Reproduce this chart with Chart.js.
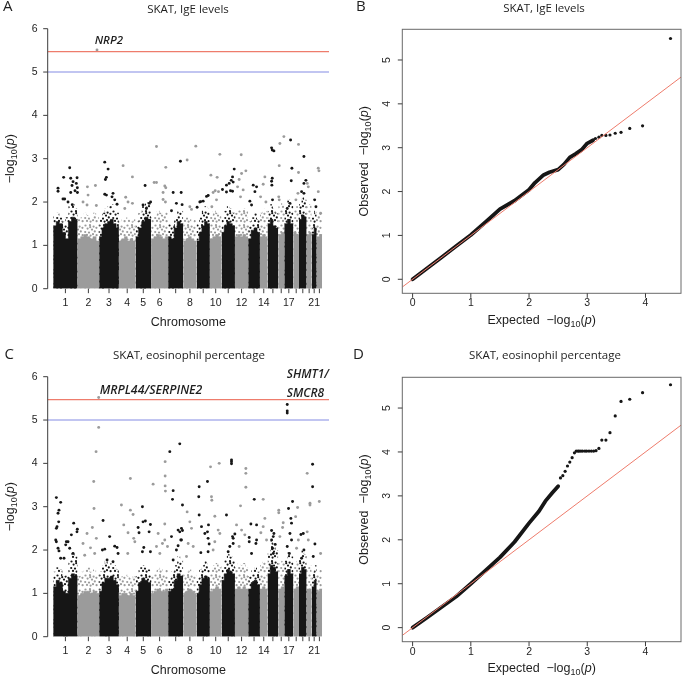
<!DOCTYPE html>
<html>
<head>
<meta charset="utf-8">
<title>SKAT Manhattan and QQ plots</title>
<script src="https://cdn.jsdelivr.net/npm/chart.js@4.4.1/dist/chart.umd.min.js"></script>
<style>
html,body{margin:0;padding:0;background:#ffffff;}
#fig{position:relative;width:685px;height:677px;overflow:hidden;background:#fff;}
#fig canvas{position:absolute;left:0;top:0;}
</style>
</head>
<body>
<div id="fig">
<canvas id="panelA" width="685" height="677"></canvas>
<canvas id="panelB" width="685" height="677"></canvas>
<canvas id="panelC" width="685" height="677"></canvas>
<canvas id="panelD" width="685" height="677"></canvas>
</div>
<script>
// ================= DATA =================
const chromosomes = ['1','2','3','4','5','6','7','8','9','10','11','12','13','14','15','16','17','18','19','20','21','22'];
const chrStartMb = [0,262,493,705,883,1050,1233,1395,1538,1681,1806,1950,2092,2218,2300,2414,2479,2577,2637,2719,2773,2827];
const chrEndMb   = [262,493,705,883,1050,1233,1395,1538,1681,1806,1950,2092,2218,2300,2414,2479,2577,2637,2719,2773,2827,2885];
const chrTickLabels = ['1','2','3','4','5','6','','8','','10','','12','','14','','','17','','','','21',''];
const manhattanYTicks = [0,1,2,3,4,5,6];
const qqXTicks = [0,1,2,3,4];
const qqYTicks = [0,1,2,3,4,5];
const genomeRangeMb = [-59, 2959];
const manhattanYRange = [0, 6];
const qqXRange = [-0.177, 4.61];
const qqYRange = [-0.32, 5.70];
const suggestiveLine = 5;
const significanceLine = 5.47;

// bulk of genes per chromosome (-log10 p), read in equal-width bins:
// level up to which the cloud is solid, and level the speckled cloud reaches
const igeSolidTop = [
  [1.45,1.55,1.5,1.3,1.15,1.55,1.65,1.6],
  [1.15,1.2,1.25,1.2,1.15,1.2,1.1],
  [1.2,1.4,1.5,1.55,1.6,1.5,1.4],
  [1.1,1.15,1.2,1.1,1.15,1.1],
  [1.2,1.4,1.55,1.65,1.6],
  [1.15,1.2,1.25,1.2,1.15,1.2],
  [1.2,1.15,1.4,1.55,1.5],
  [1.1,1.15,1.2,1.15,1.1],
  [1.1,1.3,1.45,1.55,1.5],
  [1.15,1.2,1.25,1.2],
  [1.3,1.45,1.55,1.5,1.45],
  [1.2,1.25,1.2,1.25,1.2],
  [1.15,1.35,1.4,1.3],
  [1.2,1.25,1.2],
  [1.5,1.6,1.45,1.4],
  [1.25,1.3],
  [1.5,1.6,1.5],
  [1.3,1.25],
  [1.6,1.7,1.65],
  [1.25,1.3],
  [1.25,1.4],
  [1.2,1.25]
];
const igeCloudTop = [
  [1.7,1.75,1.65,1.55,1.65,1.9,1.95,1.85],
  [1.6,1.65,1.75,1.7,1.6,1.75,1.7],
  [1.6,1.75,1.85,1.9,1.95,1.85,1.75],
  [1.55,1.6,1.65,1.6,1.55,1.6],
  [1.55,1.75,1.9,2.0,1.95],
  [1.65,1.7,1.8,1.75,1.7,1.8],
  [1.5,1.45,1.65,1.85,1.8],
  [1.6,1.65,1.6,1.55,1.6],
  [1.5,1.65,1.8,1.9,1.85],
  [1.7,1.8,1.75,1.7],
  [1.6,1.8,1.9,1.85,1.75],
  [1.75,1.85,1.8,1.85,1.8],
  [1.55,1.65,1.75,1.6],
  [1.75,1.85,1.8],
  [1.8,1.95,1.85,1.75],
  [1.9,2.0],
  [1.85,2.05,1.95],
  [1.85,1.9],
  [1.95,2.15,2.05],
  [1.9,1.95],
  [1.65,1.8],
  [1.7,1.8]
];
const eosSolidTop = [
  [1.15,1.3,1.25,1.05,1.0,1.35,1.45,1.4],
  [0.95,1.0,1.05,1.05,1.0,1.05,1.0],
  [1.05,1.25,1.35,1.35,1.4,1.3,1.2],
  [0.95,1.0,1.0,0.95,1.0,0.95],
  [1.05,1.25,1.35,1.3,1.25],
  [1.0,1.05,1.1,1.05,1.05,1.1],
  [1.05,1.1,1.3,1.45,1.4],
  [1.0,1.05,1.1,1.05,1.0],
  [1.0,1.2,1.35,1.4,1.35],
  [1.05,1.1,1.15,1.1],
  [1.3,1.45,1.55,1.5,1.45],
  [1.1,1.15,1.1,1.15,1.1],
  [1.1,1.25,1.3,1.2],
  [1.1,1.15,1.1],
  [1.45,1.65,1.6,1.5],
  [1.1,1.15],
  [1.4,1.55,1.45],
  [1.1,1.15],
  [1.45,1.6,1.55],
  [1.1,1.1],
  [1.15,1.3],
  [1.05,1.1]
];
const eosCloudTop = [
  [1.5,1.6,1.55,1.4,1.45,1.8,1.95,1.85],
  [1.4,1.5,1.55,1.6,1.5,1.55,1.45],
  [1.5,1.65,1.75,1.65,1.7,1.65,1.55],
  [1.35,1.4,1.45,1.4,1.35,1.4],
  [1.4,1.6,1.65,1.6,1.55],
  [1.45,1.5,1.55,1.6,1.5,1.55],
  [1.35,1.5,1.65,1.85,1.8],
  [1.45,1.5,1.55,1.5,1.45],
  [1.35,1.55,1.65,1.75,1.65],
  [1.55,1.65,1.7,1.6],
  [1.65,1.8,1.9,1.85,1.75],
  [1.6,1.7,1.65,1.7,1.6],
  [1.4,1.55,1.6,1.5],
  [1.65,1.75,1.7],
  [1.95,2.2,2.15,2.0],
  [1.7,1.75],
  [1.75,1.95,1.85],
  [1.7,1.75],
  [1.8,2.0,1.9],
  [1.6,1.65],
  [1.5,1.65],
  [1.5,1.55]
];

// individual genes above the cloud: [chromosome, cumulative position Mb, -log10 p]
const igeGenes = [
  [1,52,2.32],[1,52,2.25],[1,112,2.57],[1,105,2.07],[1,123,2.07],[1,177,2.79],[1,188,2.55],[1,213,2.47],[1,202,2.38],[1,188,2.22],[1,234,2.26],[1,256,2.56],[1,248,2.43],[1,259,2.33],[1,260,2.22],[1,159,2.0],[1,205,1.94],
  [2,367,2.35],[2,374,2.16],[2,363,1.93],[2,320,2.0],[2,453,2.38],[2,463,1.92],[2,470,5.51],
  [3,553,2.92],[3,589,2.76],[3,560,2.52],[3,571,2.57],[3,553,2.18],[3,571,2.16],[3,642,2.2],[3,631,2.12],[3,660,2.05],[3,685,1.95],
  [4,750,2.84],[4,850,2.58],[4,778,2.11],[4,803,2.0],[4,768,1.85],[4,850,1.97],
  [5,986,2.38],[5,1029,1.97],[5,1045,2.0],[5,964,1.93],[5,1000,1.85],
  [6,1108,3.28],[6,1208,2.8],[6,1083,2.45],[6,1108,2.45],[6,1197,2.37],[6,1208,2.33],[6,1179,2.22],[6,1179,2.06],[6,1204,2.0],
  [7,1365,2.94],[7,1287,2.22],[7,1373,2.22],[7,1322,1.97],[7,1269,1.8],[7,1383,1.94],
  [8,1437,2.97],[8,1530,3.29],[8,1466,1.89],[8,1484,1.83],
  [9,1645,2.13],[9,1584,2.01],[9,1663,2.15],[9,1609,2.02],[9,1573,2.0],[9,1544,1.88],
  [10,1692,2.62],[10,1788,3.1],[10,1759,2.57],[10,1738,2.26],[10,1773,2.24],[10,1716,2.22],[10,1752,2.05],[10,1702,1.89],
  [11,1859,2.39],[11,1888,2.43],[11,1910,2.5],[11,1924,2.58],[11,1942,2.76],[11,1931,2.46],[11,1859,2.23],[11,1816,2.29],[11,1902,2.26],[11,1924,2.25],
  [12,2017,3.09],[12,2021,2.66],[12,2067,2.72],[12,1995,2.52],[12,1978,2.35],[12,2038,2.28],[12,2010,2.12],
  [13,2110,2.02],[13,2128,1.93],[13,2182,2.35],[13,2146,2.39],[13,2164,2.24],
  [14,2271,2.58],[14,2253,2.41],[14,2225,2.12],[14,2282,2.0],
  [15,2343,3.25],[15,2368,3.18],[15,2350,3.2],[15,2350,2.55],[15,2343,2.48],[15,2346,2.39],[15,2353,2.05],
  [16,2425,2.84],[16,2432,3.35],[16,2475,3.51],[16,2420,2.12],[16,2425,2.05],
  [17,2547,3.43],[17,2561,2.78],[17,2554,2.49],[17,2540,1.97],[17,2511,1.85],
  [18,2632,3.33],[18,2632,2.68],[18,2604,2.05],[18,2626,2.2],
  [19,2690,3.05],[19,2690,2.43],[19,2711,2.5],[19,2665,2.24],[19,2690,2.2],
  [20,2726,2.43],[20,2737,2.35],
  [21,2805,2.05],[21,2819,1.89],
  [22,2844,2.78],[22,2851,2.72],[22,2844,2.24],[22,2869,1.74]
];
const eosGenes = [
  [1,34,3.21],[1,80,3.1],[1,62,2.92],[1,52,2.85],[1,59,2.65],[1,34,2.5],[1,41,2.54],[1,27,2.23],[1,34,2.19],[1,52,2.04],[1,62,1.98],[1,80,1.81],[1,141,2.19],[1,159,2.19],[1,134,2.12],[1,177,2.04],[1,213,1.92],[1,195,2.35],[1,220,2.62],[1,259,2.48],[1,255,2.42],[1,116,1.81],
  [2,488,5.52],[2,488,4.83],[2,460,4.27],[2,435,3.58],[2,438,2.96],[2,363,2.38],[2,420,2.52],[2,320,2.15],[2,338,1.88],[2,463,2.27],[2,445,1.92],[2,400,2.05],
  [3,535,2.68],[3,606,2.31],[3,553,2.02],[3,528,2.0],[3,660,2.09],[3,685,2.06],[3,696,1.92],[3,578,1.77],[3,642,1.73],
  [4,732,3.04],[4,828,3.65],[4,828,2.92],[4,857,2.82],[4,757,2.58],[4,803,2.4],[4,864,2.27],[4,800,1.92],[4,876,2.19],
  [5,957,3.0],[5,911,2.52],[5,921,2.4],[5,964,2.65],[5,989,2.67],[5,1043,2.59],[5,1029,2.42],[5,972,2.06],[5,957,1.96],[5,1043,1.96],
  [6,1072,3.52],[6,1201,4.04],[6,1201,3.71],[6,1201,3.48],[6,1204,3.36],[6,1197,2.6],[6,1197,2.23],[6,1172,2.15],[6,1126,2.38],[6,1108,2.08],[6,1144,1.92],[6,1226,2.08],
  [7,1251,4.27],[7,1358,4.45],[7,1287,3.37],[7,1280,3.17],[7,1387,3.04],[7,1269,2.31],[7,1340,2.46],[7,1358,2.42],[7,1376,2.5],[7,1387,2.45],[7,1369,2.23],[7,1376,2.23],[7,1322,2.0],[7,1340,2.1],[7,1287,1.77],
  [8,1437,2.88],[8,1466,2.65],[8,1484,2.5],[8,1448,2.15],[8,1502,2.08],[8,1430,1.85],
  [9,1566,3.46],[9,1562,3.23],[9,1655,3.58],[9,1566,2.81],[9,1591,2.54],[9,1627,2.38],[9,1655,2.42],[9,1666,2.58],[9,1662,2.27],[9,1673,2.14],[9,1662,1.96],[9,1584,1.94],
  [10,1688,3.92],[10,1781,4.0],[10,1698,3.23],[10,1702,3.15],[10,1734,2.78],[10,1770,2.46],[10,1788,2.38],[10,1734,2.19],[10,1716,2.0],
  [11,1913,4.08],[11,1913,4.04],[11,1913,3.99],[11,1859,2.81],[11,1924,2.31],[11,1931,2.27],[11,1949,2.37],[11,1895,2.08],[11,1877,1.96],[11,1931,2.15],
  [12,2067,3.88],[12,2067,3.77],[12,2067,3.45],[12,2010,3.02],[12,1967,2.58],[12,2021,2.46],[12,2056,2.35],[12,1995,2.08],
  [13,2157,3.17],[13,2121,2.6],[13,2182,2.58],[13,2182,2.23],[13,2175,2.15],[13,2103,2.29],[13,2103,2.19],[13,2128,1.92],
  [14,2253,3.17],[14,2271,2.73],[14,2253,2.54],[14,2228,2.4],[14,2289,2.23],
  [15,2343,2.45],[15,2368,2.38],[15,2361,2.31],[15,2343,2.23],[15,2382,2.13],[15,2353,2.04],[15,2361,1.92],
  [16,2420,2.92],[16,2420,2.86],[16,2432,2.31],[16,2468,2.63],[16,2461,2.52],
  [17,2511,5.36],[17,2511,5.21],[17,2511,5.16],[17,2525,2.96],[17,2568,3.12],[17,2550,2.73],[17,2557,2.62],[17,2540,2.38],[17,2557,2.23],[17,2511,2.08],[17,2532,1.92],
  [18,2622,2.98],[18,2601,2.77],[18,2630,2.23],[18,2611,2.04],
  [19,2658,2.36],[19,2683,2.38],[19,2690,2.0],[19,2665,1.81],
  [20,2725,3.77],[20,2725,2.42],[20,2737,2.23],[20,2755,3.08],[20,2755,3.04],
  [21,2783,3.98],[21,2783,3.46],[21,2808,2.14],[21,2790,1.85],
  [22,2855,3.12],[22,2869,1.92]
];

// QQ plots: [expected -log10 p, observed -log10 p]
const igeQQBulk = [[0,0],[0.25,0.25],[0.5,0.5],[0.75,0.76],[1.0,1.01],[1.25,1.3],[1.5,1.6],[1.75,1.79],[2.0,2.04],[2.1,2.2],[2.25,2.38],[2.35,2.44],[2.5,2.5],[2.6,2.62],[2.7,2.78],[2.8,2.86],[2.9,2.95],[3.0,3.1],[3.1,3.17]];
const igeQQTail = [[3.14,3.21],[3.2,3.24],[3.25,3.28],[3.32,3.28],[3.39,3.29],[3.48,3.33],[3.58,3.35],[3.73,3.44],[3.95,3.5],[4.43,5.49]];
const eosQQBulk = [[0,0],[0.25,0.23],[0.5,0.47],[0.75,0.71],[1.0,1.0],[1.25,1.3],[1.5,1.6],[1.75,1.95],[2.0,2.38],[2.17,2.65],[2.28,2.88],[2.4,3.07],[2.5,3.22]];
const eosQQTail = [[2.54,3.41],[2.58,3.46],[2.62,3.56],[2.66,3.68],[2.70,3.77],[2.74,3.87],[2.78,3.98],[2.81,4.02],[2.84,4.02],[2.86,4.02],[2.89,4.02],[2.92,4.02],[2.96,4.02],[2.99,4.02],[3.03,4.02],[3.07,4.02],[3.11,4.02],[3.15,4.03],[3.20,4.08],[3.25,4.27],[3.32,4.27],[3.39,4.44],[3.48,4.82],[3.58,5.15],[3.73,5.20],[3.95,5.35],[4.43,5.53]];

// ================= STYLE / LAYOUT =================
const BLACK = '#161616';
const GRAY = '#9b9b9b';
const AXIS = '#3c3c3c';
const TEXT = '#1e1e1e';
const RED = 'rgb(238,124,108)';
const BLUE = 'rgb(172,178,236)';
const FR = '"Liberation Sans", Arial, sans-serif';
const FT = '"Open Sans", "Noto Sans", sans-serif';
const W = 685, H = 677;

// speckle texture (style only) for the sparse part of the gene cloud
const SPECKLE_DOTS = [[1.5,1.5],[6,1.2],[9.6,2.6],[3.6,4.6],[8,5.6],[10.8,7.4],[1.2,8],[5,8.6],[9,10.2],[3,10.9],[6.6,11.6],[12.6,11.2],[12.4,3.8],[6.2,3.2]];
function speckle(color) {
  const c = document.createElement('canvas'); c.width = 14; c.height = 14;
  const g = c.getContext('2d'); g.fillStyle = color;
  SPECKLE_DOTS.forEach(p => { g.beginPath(); g.arc(p[0], p[1], 1.1, 0, Math.PI * 2); g.fill(); });
  return g.createPattern(c, 'repeat');
}

function line(ctx, x1, y1, x2, y2) { ctx.beginPath(); ctx.moveTo(x1, y1); ctx.lineTo(x2, y2); ctx.stroke(); }
function txt(ctx, s, x, y, font, align, rot) {
  ctx.save(); ctx.translate(x, y); if (rot) ctx.rotate(rot);
  ctx.font = font; ctx.textAlign = align || 'center'; ctx.textBaseline = 'middle';
  ctx.fillText(s, 0, 0); ctx.restore();
}
function mixed(ctx, parts, cx, cy, rot) {
  ctx.save(); ctx.translate(cx, cy); if (rot) ctx.rotate(rot);
  let total = 0;
  parts.forEach(p => { ctx.font = p.font; p.w = ctx.measureText(p.text).width; total += p.w; });
  let x = -total / 2; ctx.textBaseline = 'middle'; ctx.textAlign = 'left';
  parts.forEach(p => { ctx.font = p.font; ctx.fillText(p.text, x, p.dy || 0); x += p.w; });
  ctx.restore();
}
function logParts(prefix, size) {
  return [
    {text: prefix + '\u2212log', font: size + 'px ' + FR},
    {text: '10', font: (size * 0.72).toFixed(1) + 'px ' + FR, dy: size * 0.3},
    {text: '(', font: size + 'px ' + FR},
    {text: 'p', font: 'italic ' + size + 'px ' + FR},
    {text: ')', font: size + 'px ' + FR}
  ];
}

const rAxes = {
  id: 'rAxes',
  afterDraw(chart, args, o) {
    const ctx = chart.ctx, a = chart.chartArea, xs = chart.scales.x, ys = chart.scales.y;
    const TICK = 4.5;
    ctx.save();
    ctx.strokeStyle = AXIS; ctx.fillStyle = TEXT; ctx.lineWidth = 1;
    const tickFont = '10.5px ' + FR;
    if (o.kind === 'manhattan') {
      line(ctx, a.left, ys.getPixelForValue(o.yTicks[0]), a.left, ys.getPixelForValue(o.yTicks[o.yTicks.length - 1]));
      o.yTicks.forEach(v => {
        const y = ys.getPixelForValue(v);
        line(ctx, a.left - TICK, y, a.left, y);
        txt(ctx, String(v), a.left - 10, y, tickFont, 'right');
      });
      o.xTicks.forEach((v, i) => {
        const x = xs.getPixelForValue(v);
        line(ctx, x, a.bottom, x, a.bottom + TICK);
        if (o.xLabels[i]) txt(ctx, o.xLabels[i], x, a.bottom + 14.5, tickFont, 'center');
      });
      txt(ctx, 'Chromosome', (a.left + a.right) / 2, a.bottom + 34, '12.5px ' + FR, 'center');
      mixed(ctx, logParts('', 12.5), 10.5, (a.top + a.bottom) / 2, -Math.PI / 2);
    } else {
      ctx.strokeStyle = '#6a6a6a';
      ctx.strokeRect(a.left, a.top, a.right - a.left, a.bottom - a.top);
      ctx.strokeStyle = AXIS;
      o.xTicks.forEach(v => {
        const x = xs.getPixelForValue(v);
        line(ctx, x, a.bottom, x, a.bottom + TICK);
        txt(ctx, String(v), x, a.bottom + 10, tickFont, 'center');
      });
      o.yTicks.forEach(v => {
        const y = ys.getPixelForValue(v);
        line(ctx, a.left - TICK, y, a.left, y);
        txt(ctx, String(v), a.left - 15.5, y, tickFont, 'center', -Math.PI / 2);
      });
      mixed(ctx, logParts('Expected  ', 12.5), (a.left + a.right) / 2, a.bottom + 27, 0);
      mixed(ctx, logParts('Observed  ', 12.5), a.left - 37.5, (a.top + a.bottom) / 2, -Math.PI / 2);
    }
    txt(ctx, o.title, o.titleX, o.titleY, '11.5px ' + FT, 'center');
    txt(ctx, o.letter, o.letterX, o.letterY, '15px ' + FT, 'left');
    (o.notes || []).forEach(n => {
      const px = xs.getPixelForValue(n.x), py = ys.getPixelForValue(n.y);
      n.lines.forEach((s, k) => txt(ctx, s, px + n.dx, py + n.dy[k], 'italic 600 ' + n.size + 'px ' + FT, 'left'));
    });
    ctx.restore();
  }
};

function binPoints(i, tops) {
  const s = chrStartMb[i], e = chrEndMb[i], step = (e - s) / tops.length;
  const pts = tops.map((h, j) => ({x: s + j * step, y: h}));
  pts.push({x: e, y: tops[tops.length - 1]});
  return pts;
}

function manhattanDatasets(solidTop, cloudTop, genes) {
  const ds = [];
  const patBlack = speckle(BLACK), patGray = speckle(GRAY);
  ds.push({type: 'line', data: [{x: genomeRangeMb[0], y: significanceLine}, {x: genomeRangeMb[1], y: significanceLine}],
    borderColor: RED, borderWidth: 1.2, pointRadius: 0, order: 0});
  ds.push({type: 'line', data: [{x: genomeRangeMb[0], y: suggestiveLine}, {x: genomeRangeMb[1], y: suggestiveLine}],
    borderColor: BLUE, borderWidth: 1.6, pointRadius: 0, order: 0});
  [1, 0].forEach(par => {
    ds.push({type: 'scatter', data: genes.filter(g => g[0] % 2 === par).map(g => ({x: g[1], y: g[2]})),
      backgroundColor: par ? BLACK : GRAY, borderWidth: 0, pointRadius: 1.45, clip: false, order: 1});
  });
  solidTop.forEach((hs, i) => {
    const col = (i % 2 === 0) ? BLACK : GRAY;
    ds.push({type: 'line', label: 'chr' + chromosomes[i] + ' solid', data: binPoints(i, hs), stepped: true, fill: 'origin',
      backgroundColor: col, borderColor: col, borderWidth: 0.6, pointRadius: 0, order: 2});
  });
  cloudTop.forEach((hs, i) => {
    const pat = (i % 2 === 0) ? patBlack : patGray;
    ds.push({type: 'line', label: 'chr' + chromosomes[i] + ' cloud', data: binPoints(i, hs), stepped: true, fill: 'origin',
      backgroundColor: pat, borderColor: 'rgba(0,0,0,0)', borderWidth: 0, pointRadius: 0, order: 3});
  });
  return ds;
}

function qqDatasets(bulk, tail) {
  return [
    {type: 'line', data: [{x: qqXRange[0], y: qqXRange[0]}, {x: qqXRange[1], y: qqXRange[1]}],
      borderColor: RED, borderWidth: 1, pointRadius: 0, order: 0},
    {type: 'scatter', data: tail.map(p => ({x: p[0], y: p[1]})), backgroundColor: BLACK, borderWidth: 0, pointRadius: 1.6, order: 1},
    {type: 'line', data: bulk.map(p => ({x: p[0], y: p[1]})), borderColor: BLACK, borderWidth: 3.8,
      borderCapStyle: 'round', borderJoinStyle: 'round', pointRadius: 0, order: 2}
  ];
}

function makeChart(id, datasets, area, xr, yr, axesOpts) {
  return new Chart(document.getElementById(id), {
    type: 'scatter',
    data: {datasets},
    plugins: [rAxes],
    options: {
      responsive: false, animation: false, devicePixelRatio: 1, events: [],
      layout: {padding: {left: area[0], top: area[1], right: W - area[2], bottom: H - area[3]}},
      plugins: {legend: {display: false}, tooltip: {enabled: false}, rAxes: axesOpts},
      scales: {
        x: {type: 'linear', min: xr[0], max: xr[1], display: false},
        y: {type: 'linear', min: yr[0], max: yr[1], display: false}
      }
    }
  });
}

const chrCenters = chrStartMb.map((s, i) => (s + chrEndMb[i]) / 2);

function build() {
  makeChart('panelA', manhattanDatasets(igeSolidTop, igeCloudTop, igeGenes), [47.7, 28.7, 329, 288.7], genomeRangeMb, manhattanYRange,
    {kind: 'manhattan', yTicks: manhattanYTicks, xTicks: chrCenters, xLabels: chrTickLabels,
     title: 'SKAT, IgE levels', titleX: 188, titleY: 10, letter: 'A', letterX: 3, letterY: 7,
     notes: [{x: 470, y: 5.51, dx: -2.3, dy: [-9.5], size: 11.5, lines: ['NRP2']}]});
  makeChart('panelB', qqDatasets(igeQQBulk, igeQQTail), [402.3, 29.3, 683.3, 293.3], qqXRange, qqYRange,
    {kind: 'qq', xTicks: qqXTicks, yTicks: qqYTicks,
     title: 'SKAT, IgE levels', titleX: 544, titleY: 9, letter: 'B', letterX: 356, letterY: 7});
  makeChart('panelC', manhattanDatasets(eosSolidTop, eosCloudTop, eosGenes), [47.7, 376.7, 329, 636.7], genomeRangeMb, manhattanYRange,
    {kind: 'manhattan', yTicks: manhattanYTicks, xTicks: chrCenters, xLabels: chrTickLabels,
     title: 'SKAT, eosinophil percentage', titleX: 189, titleY: 356, letter: 'C', letterX: 4.5, letterY: 355,
     notes: [{x: 488, y: 5.52, dx: 1, dy: [-7.3], size: 12.3, lines: ['MRPL44/SERPINE2']},
             {x: 2511, y: 5.36, dx: -0.5, dy: [-30.3, -11.3], size: 12, lines: ['SHMT1/', 'SMCR8']}]});
  makeChart('panelD', qqDatasets(eosQQBulk, eosQQTail), [402.3, 377.3, 683.3, 641.7], qqXRange, qqYRange,
    {kind: 'qq', xTicks: qqXTicks, yTicks: qqYTicks,
     title: 'SKAT, eosinophil percentage', titleX: 545, titleY: 356, letter: 'D', letterX: 353, letterY: 355});
}

const fontLoads = ['10px "Liberation Sans"', 'italic 10px "Liberation Sans"', '10px "Open Sans"', 'italic 600 10px "Open Sans"']
  .map(f => document.fonts ? document.fonts.load(f).catch(() => null) : Promise.resolve());
Promise.all(fontLoads).then(build, build);
</script>
</body>
</html>
